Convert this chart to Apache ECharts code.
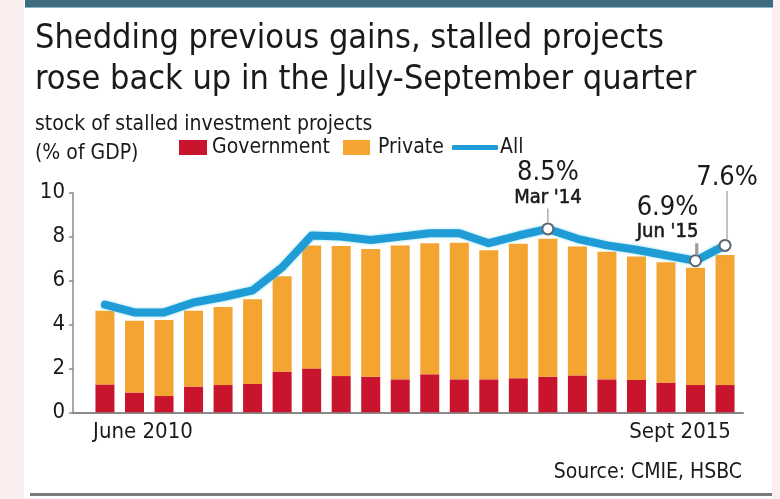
<!DOCTYPE html>
<html>
<head>
<meta charset="utf-8">
<script src="https://cdn.jsdelivr.net/npm/echarts@6/dist/echarts.min.js"></script>
<style>
  html, body { margin: 0; padding: 0; background: #fbeeee; }
  #panel { position: absolute; left: 24px; top: 0; width: 748px; height: 499px; background: #ffffff; }
  #topbar { position: absolute; left: 25px; top: 0; width: 748px; height: 7px; background: #3d6b80; border-bottom: 1px solid #8fb3c2; }
  #bottomline { position: absolute; left: 30px; top: 493px; width: 742px; height: 3px; background: #7a7a7a; }
  #chart { position: absolute; left: 0; top: 0; width: 780px; height: 499px; }
</style>
</head>
<body>
<div id="panel"></div>
<div id="topbar"></div>
<div id="bottomline"></div>
<div id="chart"></div>
<script>
// ---- data ----
const categories = ['Jun 2010','Sep 2010','Dec 2010','Mar 2011','Jun 2011','Sep 2011','Dec 2011',
  'Mar 2012','Jun 2012','Sep 2012','Dec 2012','Mar 2013','Jun 2013','Sep 2013','Dec 2013',
  'Mar 2014','Jun 2014','Sep 2014','Dec 2014','Mar 2015','Jun 2015','Sep 2015'];
const government = [1.27,0.9,0.74,1.17,1.24,1.29,1.85,2.0,1.65,1.62,1.5,1.73,1.5,1.5,1.55,1.62,1.68,1.5,1.47,1.35,1.24,1.24];
const privateSector = [3.35,3.27,3.46,3.46,3.56,3.86,4.35,5.6,5.92,5.82,6.1,5.97,6.22,5.88,6.12,6.28,5.87,5.81,5.62,5.48,5.34,5.92];
const allProjects = [4.9,4.55,4.55,5.0,5.25,5.55,6.6,8.05,8.0,7.85,8.0,8.15,8.15,7.7,8.05,8.35,7.9,7.6,7.4,7.15,6.9,7.6];
const xTickLabels = { 0: 'June 2010', 21: 'Sept 2015' };
const yTicks = [0, 2, 4, 6, 8, 10];
const callouts = [
  { index: 15, value: '8.5%', date: "Mar '14" },
  { index: 20, value: '6.9%', date: "Jun '15" },
  { index: 21, value: '7.6%', date: '' }
];

const FONT = '"Liberation Sans Narrow", "DejaVu Sans Condensed", "Liberation Sans", sans-serif';
const RED = '#c8142c', ORANGE = '#f3a431', BLUE = '#1f9cd6';
const INK = '#1a1a1a';

const calloutStyle = {
  15: { offset: [0, 0], leader: 14, align: 'center' },
  20: { offset: [-28, 0], leader: 11, align: 'right' },
  21: { offset: [2, 0], leader: 48, align: 'center' }
};

const lineData = allProjects.map((v, i) => {
  const c = callouts.find(o => o.index === i);
  if (!c) return v;
  const st = calloutStyle[i];
  let fmt = '{v|' + c.value + '}';
  if (c.date) fmt += '\n{d|' + c.date + '}';
  fmt += '\n{' + (st.align === 'right' ? 'lr' : 'l') + '|}';
  return {
    value: v,
    symbol: 'circle',
    symbolSize: 11,
    itemStyle: { color: '#ffffff', borderColor: '#5a6670', borderWidth: 2 },
    label: {
      show: true,
      position: 'top',
      distance: 0,
      offset: st.offset,
      formatter: fmt,
      rich: {
        v: { fontFamily: FONT, fontSize: 27, color: INK, lineHeight: 26, align: 'center' },
        d: { fontFamily: FONT, fontSize: 20, color: INK, lineHeight: 22, align: 'center',
             textBorderColor: INK, textBorderWidth: 0.6 },
        l: { width: 1.2, height: st.leader, backgroundColor: '#9a9a9a', align: 'center' },
        lr: { width: 1.2, height: st.leader, backgroundColor: '#9a9a9a', align: 'right', padding: [0, 2, 0, 0] }
      }
    }
  };
});

const legendText = { fontFamily: FONT, fontSize: 21, color: INK };

const chart = echarts.init(document.getElementById('chart'), null, { renderer: 'canvas' });
chart.setOption({
  backgroundColor: 'transparent',
  animation: false,
  title: [
    {
      text: 'Shedding previous gains, stalled projects\nrose back up in the July-September quarter',
      left: 30, top: 14,
      textStyle: { fontFamily: FONT, fontSize: 34, fontWeight: 'normal', color: INK, lineHeight: 41 }
    },
    {
      text: 'stock of stalled investment projects\n(% of GDP)',
      left: 30, top: 105,
      textStyle: { fontFamily: FONT, fontSize: 21, fontWeight: 'normal', color: INK, lineHeight: 29 }
    },
    {
      text: 'Source: CMIE, HSBC',
      right: 33, top: 457,
      textStyle: { fontFamily: FONT, fontSize: 21, fontWeight: 'normal', color: INK }
    }
  ],
  legend: [
    {
      data: ['Government'], left: 179, top: 137,
      itemWidth: 28, itemHeight: 15, padding: 0, icon: 'rect',
      textStyle: Object.assign({}, legendText, { padding: [0, 0, 0, 0] })
    },
    {
      data: ['Private'], left: 343, top: 137,
      itemWidth: 27, itemHeight: 15, padding: 0, icon: 'rect',
      textStyle: Object.assign({}, legendText, { padding: [0, 0, 0, 3] })
    },
    {
      data: ['All'], left: 452, top: 137,
      itemWidth: 46, itemHeight: 5, padding: 0, icon: 'roundRect',
      textStyle: Object.assign({}, legendText, { padding: [0, 0, 0, -3] })
    }
  ],
  grid: [
    { left: 90.2, right: 40.2, top: 192.7, bottom: 86.7 },
    { left: 73, right: 37, top: 192.7, bottom: 86.7 }
  ],
  xAxis: [
    {
      type: 'category', gridIndex: 0, data: categories,
      axisLine: { show: false }, axisTick: { show: false },
      axisLabel: {
        interval: 0, margin: 9,
        formatter: (val, idx) => {
          if (idx === 0) return '{a|' + xTickLabels[0] + '}';
          if (idx === 21) return '{b|' + xTickLabels[21] + '}';
          return '';
        },
        rich: {
          a: { fontFamily: FONT, fontSize: 22, color: INK, padding: [0, 0, 0, 76] },
          b: { fontFamily: FONT, fontSize: 22, color: INK, padding: [0, 90, 0, 0] }
        }
      }
    },
    {
      type: 'value', gridIndex: 1, min: 0, max: 1,
      axisLine: { show: true, lineStyle: { color: '#8a8a8a', width: 2 } },
      axisTick: { show: false }, axisLabel: { show: false }, splitLine: { show: false }
    }
  ],
  yAxis: [
    { type: 'value', gridIndex: 0, min: 0, max: 10, show: false },
    {
      type: 'value', gridIndex: 1, min: yTicks[0], max: yTicks[yTicks.length - 1], interval: 2,
      axisLine: { show: true, lineStyle: { color: '#8a8a8a', width: 1.5 } },
      axisTick: { show: true, length: 4, lineStyle: { color: '#8a8a8a', width: 1.5 } },
      splitLine: { show: false },
      axisLabel: { fontFamily: FONT, fontSize: 22, color: INK, margin: 8 }
    }
  ],
  series: [
    {
      name: 'Government', type: 'bar', stack: 'total', xAxisIndex: 0, yAxisIndex: 0,
      barWidth: 19, data: government, itemStyle: { color: RED }
    },
    {
      name: 'Private', type: 'bar', stack: 'total', xAxisIndex: 0, yAxisIndex: 0,
      barWidth: 19, data: privateSector, itemStyle: { color: ORANGE }
    },
    {
      name: 'All', type: 'line', xAxisIndex: 0, yAxisIndex: 0,
      data: lineData, symbol: 'none', showSymbol: true, clip: false, z: 5,
      itemStyle: { color: BLUE },
      lineStyle: { color: BLUE, width: 8, cap: 'round', join: 'round',
        shadowColor: 'rgba(120,215,245,0.9)', shadowBlur: 3 },
      emphasis: { disabled: true }
    }
  ]
});
</script>
</body>
</html>
